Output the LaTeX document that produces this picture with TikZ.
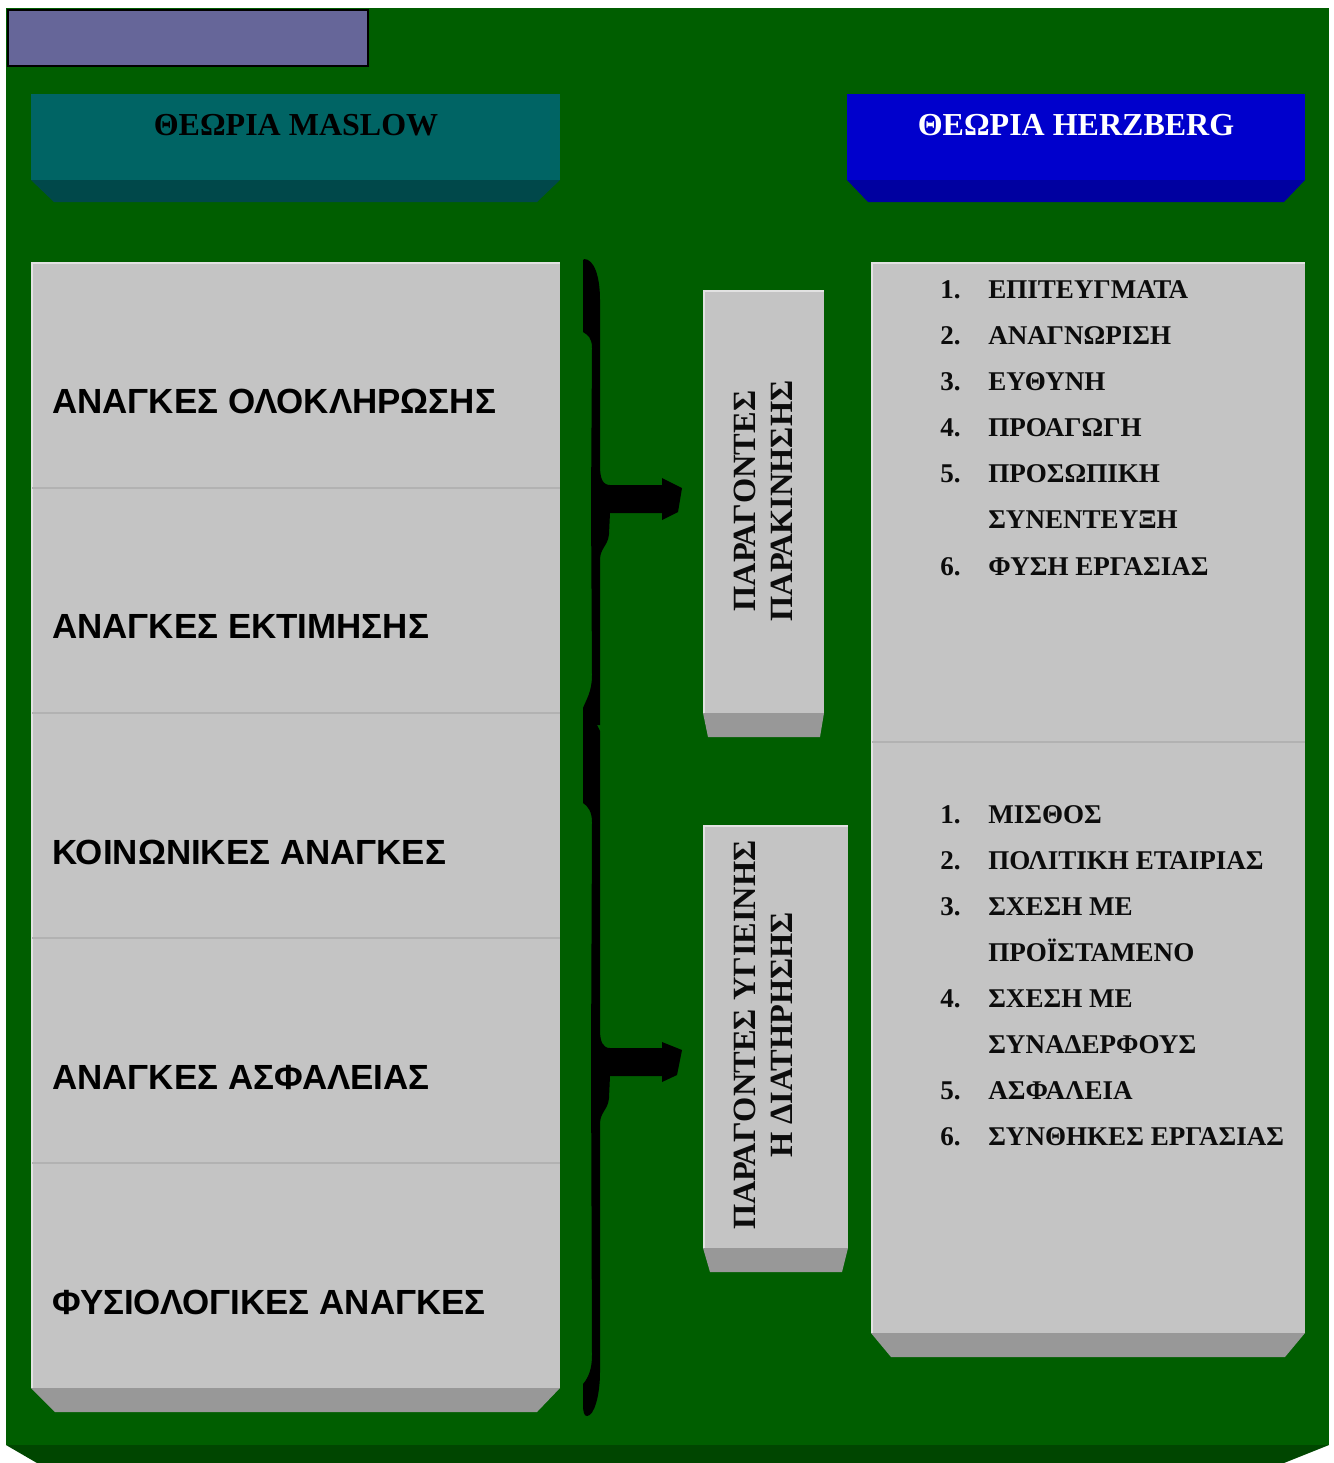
\documentclass[tikz,border=0pt]{standalone}
\usepackage{fontspec}
\setmainfont{Liberation Serif}
\newfontfamily\arialfont{Liberation Sans}

\definecolor{bggreen}{RGB}{0,94,0}
\definecolor{bgdark}{RGB}{0,70,0}
\definecolor{lilac}{RGB}{102,102,153}
\definecolor{tealface}{RGB}{0,100,100}
\definecolor{tealside}{RGB}{0,72,74}
\definecolor{blueface}{RGB}{0,0,204}
\definecolor{blueside}{RGB}{0,0,160}
\definecolor{greyface}{RGB}{196,196,196}
\definecolor{greyside}{RGB}{152,152,152}
\definecolor{greyline}{RGB}{178,178,178}
\definecolor{greylight}{RGB}{226,226,226}
\definecolor{inkdark}{RGB}{12,12,12}

\begin{document}
\begin{tikzpicture}[x=0.75pt,y=-0.75pt,
  need/.style={font=\arialfont\bfseries\fontsize{26.2}{30}\selectfont, anchor=base west, inner sep=0pt, text=black},
  item/.style={font=\bfseries\fontsize{20.3}{24}\selectfont, anchor=base west, inner sep=0pt, text=inkdark},
  head/.style={font=\bfseries\fontsize{24}{28}\selectfont, anchor=base, inner sep=0pt},
  vlabel/.style={font=\bfseries\fontsize{24.3}{27.75}\selectfont, rotate=90, align=center, inner sep=0pt, text=inkdark},
  face/.style={fill=greyface},
  side/.style={fill=greyside},
  rim/.style={draw=greylight, line width=1.5},
  divider/.style={draw=greyline, line width=1.5}]

\useasboundingbox (0,0) rectangle (1334,1463);
\fill[white] (0,0) rectangle (1334,1463);

% green panel with its lower bevel
\fill[bggreen] (6,8) rectangle (1329,1445);
\fill[bgdark] (6,1445) -- (1329,1445) -- (1284,1463) -- (37,1463) -- cycle;

% title strip
\draw[fill=lilac, draw=black, line width=1.5] (8,10) rectangle (368,66);

% Maslow header
\fill[tealface] (31,94) rectangle (560,180);
\fill[tealside] (31,180) -- (560,180) -- (537,202) -- (54,202) -- cycle;
\node[head, text=black] (hmaslow) at (296,135) {ΘΕΩΡΙΑ MASLOW};

% Herzberg header
\fill[blueface] (847,94) rectangle (1305,180);
\fill[blueside] (847,180) -- (1305,180) -- (1284,202) -- (868,202) -- cycle;
\node[head, text=white] (hherz) at (1076,135) {ΘΕΩΡΙΑ HERZBERG};

% hierarchy of needs column
\fill[face] (31,262) rectangle (560,1388);
\fill[side] (31,1388) -- (560,1388) -- (537,1412) -- (55,1412) -- cycle;
\draw[rim] (31.5,1388) -- (31.5,262.5) -- (560,262.5);
\foreach \yy in {488,713,938,1163}
  \draw[divider] (32,\yy) -- (560,\yy);
\node[need] (n1) at (52,413) {ΑΝΑΓΚΕΣ ΟΛΟΚΛΗΡΩΣΗΣ};
\node[need] (n2) at (52,638) {ΑΝΑΓΚΕΣ ΕΚΤΙΜΗΣΗΣ};
\node[need] (n3) at (52,864) {ΚΟΙΝΩΝΙΚΕΣ ΑΝΑΓΚΕΣ};
\node[need] (n4) at (52,1089) {ΑΝΑΓΚΕΣ ΑΣΦΑΛΕΙΑΣ};
\node[need] (n5) at (52,1314) {ΦΥΣΙΟΛΟΓΙΚΕΣ ΑΝΑΓΚΕΣ};

% motivators box
\fill[face] (703,290) rectangle (824,713);
\fill[side] (703,713) -- (824,713) -- (820,737) -- (708,737) -- cycle;
\draw[rim] (703.5,713) -- (703.5,290.5) -- (824,290.5);
\node[vlabel] (motiv) at (763,501) {ΠΑΡΑΓΟΝΤΕΣ\\ΠΑΡΑΚΙΝΗΣΗΣ};

% hygiene box
\fill[face] (703,825) rectangle (848,1248);
\fill[side] (703,1248) -- (848,1248) -- (842,1272) -- (710,1272) -- cycle;
\draw[rim] (703.5,1248) -- (703.5,825.5) -- (848,825.5);
\node[vlabel] (hyg) at (763,1035) {ΠΑΡΑΓΟΝΤΕΣ ΥΓΙΕΙΝΗΣ\\Η ΔΙΑΤΗΡΗΣΗΣ};

% factor lists
\fill[face] (871,262) rectangle (1305,1333);
\fill[side] (871,1333) -- (1305,1333) -- (1285,1357) -- (891,1357) -- cycle;
\draw[rim] (871.5,1333) -- (871.5,262.5) -- (1305,262.5);
\draw[divider] (872,742) -- (1305,742);

\foreach \n/\yy/\txt in {1/298/ΕΠΙΤΕΥΓΜΑΤΑ, 2/344/ΑΝΑΓΝΩΡΙΣΗ, 3/390/ΕΥΘΥΝΗ,
    4/436/ΠΡΟΑΓΩΓΗ, 5/482/ΠΡΟΣΩΠΙΚΗ, 6/575/ΦΥΣΗ ΕΡΓΑΣΙΑΣ} {
  \node[item] (mn\n) at (940,\yy) {\n.};
  \node[item] (mt\n) at (988,\yy) {\txt};
}
\node[item] (mt5b) at (988,528) {ΣΥΝΕΝΤΕΥΞΗ};

\foreach \n/\yy/\txt in {1/823/ΜΙΣΘΟΣ, 2/869/ΠΟΛΙΤΙΚΗ ΕΤΑΙΡΙΑΣ, 3/915/ΣΧΕΣΗ ΜΕ,
    4/1007/ΣΧΕΣΗ ΜΕ, 5/1099/ΑΣΦΑΛΕΙΑ, 6/1145/ΣΥΝΘΗΚΕΣ ΕΡΓΑΣΙΑΣ} {
  \node[item] (hn\n) at (940,\yy) {\n.};
  \node[item] (ht\n) at (988,\yy) {\txt};
}
\node[item] (ht3b) at (988,961) {ΠΡΟΪΣΤΑΜΕΝΟ};
\node[item] (ht4b) at (988,1053) {ΣΥΝΑΔΕΡΦΟΥΣ};

% upper brace with its arrow
\fill[black] (584,259) .. controls (594,259) and (600,276) .. (600,300)
  -- (600,466) .. controls (600,479) and (603,485) .. (610,485)
  -- (662,485) -- (662,478) -- (682,488) -- (678,512) -- (662,520) -- (662,513) -- (610,513)
  -- (609,534) .. controls (608,546) and (600,548) .. (600,560)
  -- (600,725) -- (583,725) -- (583,708) .. controls (586,700) and (592,692) .. (592,675)
  -- (591,505) -- (592,348) .. controls (592,338) and (588,335) .. (583,332)
  -- (583,264) .. controls (583,261) and (583,259) .. (584,259) -- cycle;

% lower brace with its arrow
\fill[black] (583,725) -- (597,725) -- (600,731)
  -- (600,1030) .. controls (600,1042) and (603,1048) .. (610,1048)
  -- (662,1048) -- (662,1042) -- (682,1050) -- (677,1075) -- (662,1082) -- (662,1076) -- (610,1076)
  -- (609,1098) .. controls (608,1110) and (600,1112) .. (600,1124)
  -- (600,1372) .. controls (600,1396) and (594,1416) .. (587,1416)
  .. controls (584,1416) and (583,1412) .. (583,1404)
  -- (583,1384) .. controls (588,1378) and (592,1370) .. (592,1355)
  -- (591,1062) -- (592,822) .. controls (592,812) and (588,806) .. (583,803) -- cycle;

\end{tikzpicture}
\end{document}
